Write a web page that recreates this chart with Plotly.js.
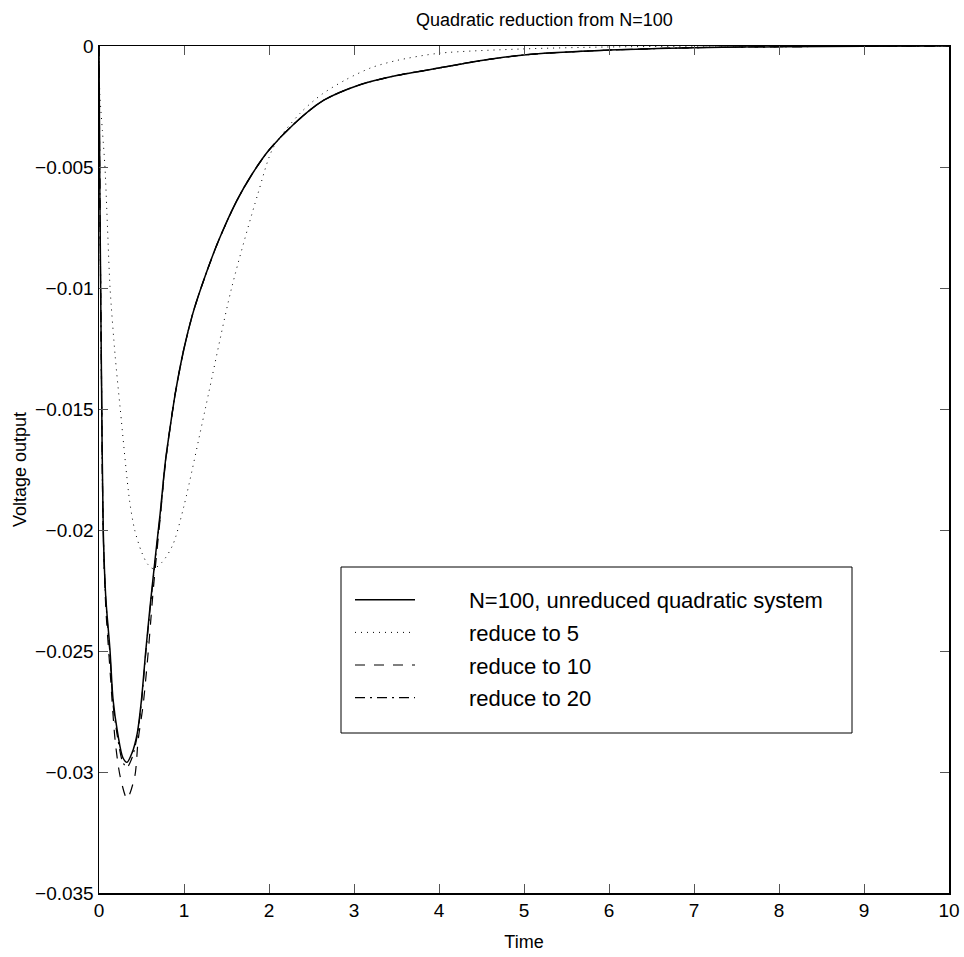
<!DOCTYPE html>
<html>
<head>
<meta charset="utf-8">
<script src="https://cdn.plot.ly/plotly-3.0.1.min.js"></script>
<style>html,body{margin:0;padding:0;background:#fff;}#plot{width:964px;height:957px;}</style>
</head>
<body>
<div id="plot"></div>
<script>
// N=100, unreduced quadratic system (solid)
const tFull = [0, 0.01, 0.03, 0.05, 0.08, 0.13, 0.165, 0.22, 0.28, 0.33, 0.39, 0.45, 0.5, 0.55, 0.6, 0.66, 0.72, 0.78, 0.835, 0.9, 1.0, 1.1, 1.2, 1.4, 1.62, 1.8, 2.0, 2.3, 2.64, 3.07, 3.5, 4.0, 4.5, 5.0, 6.0, 7.0, 8.0, 9.0, 10.0];
const vFull = [0, -0.006, -0.014, -0.020, -0.0228, -0.025, -0.027, -0.0284, -0.0294, -0.0296, -0.0292, -0.0284, -0.0270, -0.0250, -0.0232, -0.0212, -0.0193, -0.0172, -0.0158, -0.0143, -0.0125, -0.0111, -0.0100, -0.0081, -0.0064, -0.0053, -0.0043, -0.0032, -0.00225, -0.0016, -0.00122, -0.00091, -0.0006, -0.00037, -0.00017, -0.00007, -0.00003, -0.00001, 0];

// reduce to 5 (dotted)
const tR5 = [0, 0.01, 0.04, 0.07, 0.1, 0.13, 0.19, 0.25, 0.36, 0.42, 0.5, 0.57, 0.64, 0.75, 0.87, 1.0, 1.25, 1.56, 1.87, 2.05, 2.36, 2.62, 2.9, 3.2, 3.5, 4.0, 5.0, 6.0, 7.0, 10.0];
const vR5 = [0, -0.002, -0.0035, -0.005, -0.0075, -0.0100, -0.0128, -0.0150, -0.0188, -0.0200, -0.0209, -0.0214, -0.0216, -0.0213, -0.0206, -0.0190, -0.0150, -0.0100, -0.0061, -0.0042, -0.0028, -0.0020, -0.0014, -0.0009, -0.0006, -0.0003, -0.00012, -0.00004, -0.00001, 0];

// reduce to 10 (dashed)
const tR10 = [0, 0.01, 0.03, 0.05, 0.08, 0.13, 0.19, 0.25, 0.33, 0.42, 0.46, 0.52, 0.58, 0.64, 0.72, 0.78, 0.835, 0.9, 1.0, 1.1, 1.2, 1.4, 1.62, 1.8, 2.0, 2.3, 2.64, 3.07, 3.5, 4.0, 4.5, 5.0, 6.0, 7.0, 8.0, 9.0, 10.0];
const vR10 = [0, -0.006, -0.014, -0.0202, -0.0232, -0.0258, -0.0287, -0.0302, -0.0311, -0.0302, -0.0287, -0.0272, -0.0250, -0.0224, -0.0195, -0.0173, -0.0158, -0.0143, -0.0125, -0.0111, -0.0100, -0.0081, -0.0064, -0.0053, -0.0043, -0.0032, -0.00225, -0.0016, -0.00122, -0.00091, -0.0006, -0.00037, -0.00017, -0.00007, -0.00003, -0.00001, 0];

// reduce to 20 (dash-dot)
const tR20 = [0, 0.01, 0.03, 0.05, 0.08, 0.13, 0.165, 0.22, 0.28, 0.33, 0.39, 0.45, 0.5, 0.55, 0.6, 0.66, 0.72, 0.78, 0.835, 0.9, 1.0, 1.1, 1.2, 1.4, 1.62, 1.8, 2.0, 2.3, 2.64, 3.07, 3.5, 4.0, 4.5, 5.0, 6.0, 7.0, 8.0, 9.0, 10.0];
const vR20 = [0, -0.006, -0.014, -0.0201, -0.0229, -0.0252, -0.0272, -0.0286, -0.0296, -0.0298, -0.0294, -0.0285, -0.0271, -0.0251, -0.0233, -0.0213, -0.0194, -0.0172, -0.0158, -0.0143, -0.0125, -0.0111, -0.0100, -0.0081, -0.0064, -0.0053, -0.0043, -0.0032, -0.00225, -0.0016, -0.00122, -0.00091, -0.0006, -0.00037, -0.00017, -0.00007, -0.00003, -0.00001, 0];

const seriesNames = ['N=100, unreduced quadratic system', 'reduce to 5', 'reduce to 10', 'reduce to 20'];

const FONT = 'Liberation Sans, Arial, Helvetica, sans-serif';
const PAD = '\u00a0'.repeat(8);  // gap between legend sample and label

const traces = [
  {x: tFull, y: vFull, name: PAD + seriesNames[0], legendgroup: 'a', mode: 'lines',
   line: {color: '#000', width: 1.5, shape: 'spline', smoothing: 0.8}},
  {x: tR5, y: vR5, name: PAD + seriesNames[1], legendgroup: 'b', mode: 'lines',
   line: {color: '#000', width: 1, dash: '1px,5px', shape: 'spline', smoothing: 0.8}},
  {x: tR10, y: vR10, name: PAD + seriesNames[2], legendgroup: 'c', mode: 'lines',
   line: {color: '#000', width: 1.2, dash: '10px,9px', shape: 'spline', smoothing: 0.8}},
  {x: tR20, y: vR20, name: PAD + seriesNames[3], legendgroup: 'd', mode: 'lines',
   line: {color: '#000', width: 1.2, dash: '10px,5px,2px,5px', shape: 'spline', smoothing: 0.8}}
];

const layout = {
  width: 964, height: 957,
  margin: {l: 99, r: 15, t: 46, b: 64},
  paper_bgcolor: '#fff', plot_bgcolor: '#fff',
  font: {family: FONT, color: '#000', size: 19},
  title: {text: 'Quadratic reduction from N=100', font: {family: FONT, size: 18, color: '#000'},
          x: 0.524, xref: 'paper', xanchor: 'center', y: 1 - 20/957, yref: 'container', yanchor: 'middle'},
  xaxis: {
    range: [0, 10], dtick: 1, tick0: 0, showgrid: false, zeroline: false,
    showline: true, linecolor: '#000', linewidth: 1.5, mirror: 'ticks',
    ticks: 'inside', ticklen: 9, tickwidth: 1, tickcolor: '#555',
    tickfont: {family: FONT, size: 19, color: '#000'},
    title: {text: 'Time', font: {family: FONT, size: 18, color: '#000'}, standoff: 15}
  },
  yaxis: {
    range: [-0.035, 0], dtick: 0.005, tick0: 0, showgrid: false, zeroline: false,
    showline: true, linecolor: '#000', linewidth: 1.5, mirror: 'ticks',
    ticks: 'inside', ticklen: 9, tickwidth: 1, tickcolor: '#555',
    tickfont: {family: FONT, size: 19, color: '#000'},
    title: {text: 'Voltage output', font: {family: FONT, size: 18, color: '#000'}, standoff: 3}
  },
  showlegend: true,
  legend: {
    x: (350 - 99) / 850, y: (893 - 579) / 847, xanchor: 'left', yanchor: 'top',
    bgcolor: 'rgba(0,0,0,0)', borderwidth: 0,
    font: {family: FONT, size: 22, color: '#000'},
    itemwidth: 60, tracegroupgap: 1, itemclick: false
  },
  shapes: [{
    type: 'rect', xref: 'paper', yref: 'paper', layer: 'above',
    x0: (341 - 99) / 850, x1: (852 - 99) / 850, y0: (893 - 733) / 847, y1: (893 - 567) / 847,
    line: {color: '#000', width: 1}, fillcolor: '#fff'
  }]
};

Plotly.newPlot('plot', traces, layout, {displayModeBar: false, staticPlot: true});
</script>
</body>
</html>
